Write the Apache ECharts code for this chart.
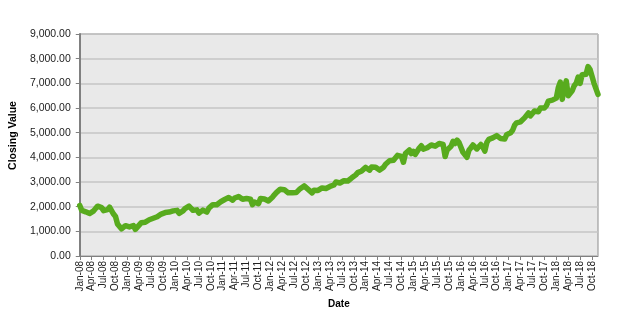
<!DOCTYPE html>
<html>
<head>
<meta charset="utf-8">
<script src="https://cdn.jsdelivr.net/npm/echarts@6/dist/echarts.min.js"></script>
<style>
html,body{margin:0;padding:0;background:#fff;}
#chart{width:622px;height:320px;}
</style>
</head>
<body>
<div id="chart"></div>
<script>
// Semi-monthly closing values (1st and 15th of each month)
const v2008 = [2050,1850,1820,1790,1760,1720,1800,1830,1930,2020,2040,1960,1840,1800,1880,1980,1900,1700,1600,1300,1350,1100,1130,1230];
const v2009 = [1220,1180,1220,1230,1080,1170,1250,1350,1400,1370,1450,1470,1480,1530,1600,1590,1620,1700,1680,1760,1690,1780,1770,1830];
const v2010 = [1860,1850,1730,1770,1830,1920,1960,2020,2000,1850,1800,1870,1740,1820,1860,1790,1780,1940,2000,2080,2130,2080,2150,2200];
const v2011 = [2220,2290,2320,2370,2320,2260,2350,2310,2410,2340,2300,2230,2330,2370,2300,2080,2190,2250,2120,2330,2330,2310,2260,2230];
const v2012 = [2280,2380,2480,2570,2610,2710,2760,2690,2720,2560,2480,2560,2620,2570,2630,2730,2760,2840,2800,2700,2650,2560,2670,2640];
const v2013 = [2660,2730,2760,2770,2740,2800,2820,2780,2880,3000,2980,2960,2920,3050,3050,3040,3070,3170,3240,3290,3380,3400,3450,3490];
const v2014 = [3590,3580,3480,3610,3680,3600,3630,3480,3560,3600,3720,3780,3860,3930,3880,3960,4080,4060,4040,3800,4150,4210,4300,4150];
const v2015 = [4240,4120,4180,4380,4470,4330,4330,4390,4460,4500,4500,4450,4400,4560,4560,4520,4030,4300,4250,4450,4650,4560,4700,4600];
const v2016 = [4600,4200,4270,4000,4290,4390,4500,4540,4340,4340,4520,4420,4250,4600,4730,4800,4790,4780,4880,4810,4760,4750,4740,4920];
const v2017 = [4860,5000,5100,5300,5400,5410,5440,5380,5600,5660,5800,5680,5650,5880,5900,5850,6000,6000,6000,6090,6280,6330,6320,6400];
const v2018 = [6400,6820,7050,6350,6800,7100,6500,6450,6700,6900,7000,7250,7000,7350,7300,7370,7680,7560,7600,7000,6950,6550];

const closingValues = [].concat(v2008,v2009,v2010,v2011,v2012,v2013,v2014,v2015,v2016,v2017,v2018);
const monthNames = ['Jan','Feb','Mar','Apr','May','Jun','Jul','Aug','Sep','Oct','Nov','Dec'];

// Category dates: 1st and 15th of each month from Jan 2008
const dates = [];
for (let i = 0; i < closingValues.length; i++) {
  const m = Math.floor(i / 2);
  const y = 2008 + Math.floor(m / 12);
  const mo = m % 12;
  dates.push(y + '-' + String(mo + 1).padStart(2, '0') + (i % 2 === 0 ? '-01' : '-15'));
}
function quarterLabel(idx) { return idx % 6 === 0; }
function fmtDate(v) {
  const p = v.split('-');
  return monthNames[parseInt(p[1], 10) - 1] + '-' + p[0].slice(2);
}

const chart = echarts.init(document.getElementById('chart'), null, {renderer: 'canvas'});
chart.setOption({
  animation: false,
  backgroundColor: '#ffffff',
  textStyle: {fontFamily: 'Liberation Sans, Arial, sans-serif'},
  grid: {
    left: 75, right: 24, top: 34, bottom: 64,
    show: true, backgroundColor: '#E9E9E9', borderColor: '#8C8C8C', borderWidth: 1
  },
  xAxis: {
    type: 'category',
    data: dates,
    boundaryGap: false,
    name: 'Date',
    nameLocation: 'middle',
    nameGap: 43,
    nameTextStyle: {fontWeight: 'bold', fontSize: 10, color: '#000'},
    axisLine: {show: true, lineStyle: {color: '#808080', width: 1}},
    axisTick: {show: true, interval: quarterLabel, length: 4, lineStyle: {color: '#808080'}},
    axisLabel: {
      interval: quarterLabel, rotate: 90, fontSize: 10, color: '#222', margin: 5,
      formatter: fmtDate
    },
    splitLine: {show: false}
  },
  yAxis: {
    type: 'value',
    min: 0, max: 9000, interval: 1000,
    name: 'Closing Value',
    nameLocation: 'middle',
    nameGap: 57,
    nameTextStyle: {fontWeight: 'bold', fontSize: 10.5, color: '#000', padding: [0, 0, 0, 19]},
    axisLine: {show: true, lineStyle: {color: '#808080', width: 2}},
    axisTick: {show: true, length: 4, lineStyle: {color: '#808080'}},
    axisLabel: {
      fontSize: 10.5, color: '#222', margin: 9,
      formatter: function (v) { return v.toLocaleString('en-US', {minimumFractionDigits: 2, maximumFractionDigits: 2}); }
    },
    splitLine: {show: true, lineStyle: {color: '#C4C4C4', width: 1.5}}
  },
  series: [{
    type: 'line',
    data: closingValues,
    showSymbol: false,
    symbol: 'none',
    lineStyle: {color: '#58AB1E', width: 5.5, join: 'round', cap: 'round'},
    z: 3
  }]
});
</script>
</body>
</html>
